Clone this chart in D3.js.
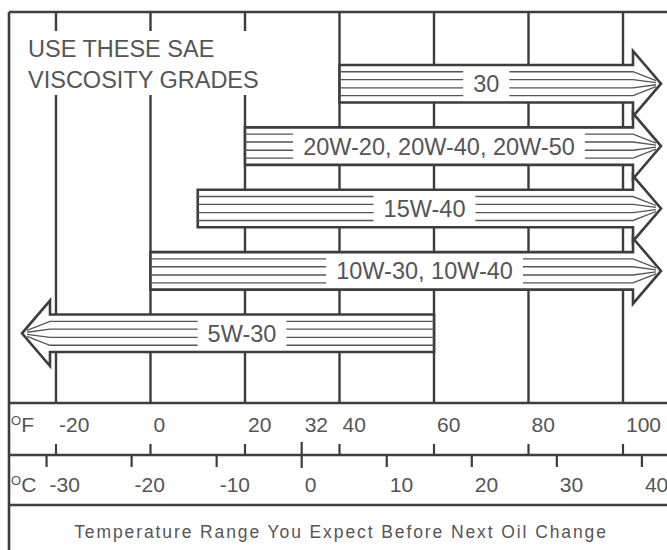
<!DOCTYPE html>
<html>
<head>
<meta charset="utf-8">
<script src="https://cdn.jsdelivr.net/npm/d3@7"></script>
<style>
  html, body { margin: 0; padding: 0; background: #fff; }
  svg { display: block; }
  text { font-family: "Liberation Sans", Arial, sans-serif; fill: #555; }
</style>
</head>
<body>
<svg id="chart" width="667" height="550"></svg>
<script>
// ---- data ----
const grades = ["30", "20W-20, 20W-40, 20W-50", "15W-40", "10W-30, 10W-40", "5W-30"];
const lowF  = [40, 20, 10, 0, null];      // null = open (arrow to the left)
const highF = [null, null, null, null, 60]; // null = open (arrow to the right)
const gridF = [-20, 0, 20, 40, 60, 80, 100];
const fTicks = [-20, 0, 20, 32, 40, 60, 80, 100];
const cTicks = [-30, -20, -10, 0, 10, 20, 30, 40];
const titleLines = ["USE THESE SAE", "VISCOSITY GRADES"];
const caption = "Temperature Range You Expect Before Next Oil Change";

// ---- layout ----
const W = 667, H = 550;
const ink = "#3d3d3d";
const frameL = 9, frameT = 12;
const fBandTop = 403, midLine = 455, cBandBot = 505;

const x = d3.scaleLinear().domain([-20, 100]).range([56, 623]);
const toF = c => c * 9 / 5 + 32;
const y = d3.scaleBand().domain(grades).range([65, 352]).paddingInner(0.4).paddingOuter(0);

const svg = d3.select("#chart");

// gridlines
svg.append("g").selectAll("line").data(gridF).join("line")
  .attr("x1", d => x(d)).attr("x2", d => x(d))
  .attr("y1", frameT).attr("y2", fBandTop)
  .attr("stroke", ink).attr("stroke-width", 2.4);

// title block (white box interrupts gridlines)
svg.append("rect").attr("x", 16).attr("y", 31).attr("width", 290).attr("height", 64).attr("fill", "#fff");
svg.append("g").selectAll("text").data(titleLines).join("text")
  .attr("x", 28).attr("y", (d, i) => 57 + i * 31)
  .attr("font-size", 23.5).text(d => d);

// frame lines
const frame = svg.append("g").attr("stroke", ink).attr("stroke-width", 2.6);
frame.append("line").attr("x1", frameL).attr("x2", W).attr("y1", frameT).attr("y2", frameT);
frame.append("line").attr("x1", frameL).attr("x2", frameL).attr("y1", frameT).attr("y2", H);
frame.append("line").attr("x1", frameL).attr("x2", W).attr("y1", fBandTop).attr("y2", fBandTop);
frame.append("line").attr("x1", frameL).attr("x2", W).attr("y1", midLine).attr("y2", midLine);
frame.append("line").attr("x1", frameL).attr("x2", W).attr("y1", cBandBot).attr("y2", cBandBot);

// ---- arrows ----
const rightBase = x.range()[1] + 10, rightTip = rightBase + 28;
const leftBase = x.range()[0] - 6, leftTip = leftBase - 28;
const ext = 14;
const stripeFr = [0.18, 0.39, 0.61, 0.82];
const minLabelX = x(58);

const bars = grades.map((g, i) => ({ g, lo: lowF[i], hi: highF[i] }));
const gBars = svg.append("g");
bars.forEach(b => {
  const top = y(b.g), bot = top + y.bandwidth(), cy = top + y.bandwidth() / 2;
  const g = gBars.append("g");
  let pts, sx, tip, base;
  if (b.hi === null) {
    sx = x(b.lo); base = rightBase; tip = rightTip;
  } else {
    sx = x(b.hi); base = leftBase; tip = leftTip;
  }
  pts = [[sx, top], [base, top], [base, top - ext], [tip, cy], [base, bot + ext], [base, bot], [sx, bot]];
  g.append("polygon").attr("points", pts.map(p => p.join(",")).join(" "))
    .attr("fill", "#fff").attr("stroke", ink).attr("stroke-width", 2.6).attr("stroke-linejoin", "miter");
  stripeFr.forEach(f => {
    const sy = top + f * y.bandwidth();
    const endX = tip + (b.hi === null ? -5 : 5);
    const endY = cy + (sy - cy) * 0.25;
    g.append("polyline")
      .attr("points", [[sx, sy], [base, sy], [endX, endY]].map(p => p.join(",")).join(" "))
      .attr("fill", "none").attr("stroke", "#555").attr("stroke-width", 1.3);
  });
  // label
  let lx = (sx + base) / 2;
  if (b.hi === null) lx = Math.max(lx, minLabelX);
  const t = g.append("text").attr("x", lx).attr("y", cy + 8.5)
    .attr("text-anchor", "middle").attr("font-size", 23.5).text(b.g);
  const bw = t.node().getComputedTextLength();
  g.insert("rect", "text").attr("x", lx - bw / 2 - 10).attr("y", top + 3)
    .attr("width", bw + 20).attr("height", y.bandwidth() - 6).attr("fill", "#fff");
});

// ---- Fahrenheit axis ----
const fG = svg.append("g");
fG.selectAll("line").data(fTicks).join("line")
  .attr("x1", d => x(d)).attr("x2", d => x(d))
  .attr("y1", d => d === 32 ? midLine - 13 : midLine - 11)
  .attr("y2", d => d === 32 ? midLine + 13 : midLine)
  .attr("stroke", ink).attr("stroke-width", 2.2);
fG.selectAll("text").data(fTicks).join("text")
  .attr("x", d => x(d) + 3).attr("y", 432).attr("font-size", 21).text(d => d);
const fUnit = svg.append("text").attr("x", 11).attr("y", 432).attr("font-size", 21);
fUnit.append("tspan").attr("font-size", 13).attr("dy", -7).text("O");
fUnit.append("tspan").attr("dy", 7).text("F");

// ---- Celsius axis ----
const cG = svg.append("g");
cG.selectAll("line").data(cTicks.filter(c => c !== 0)).join("line")
  .attr("x1", d => x(toF(d))).attr("x2", d => x(toF(d)))
  .attr("y1", midLine).attr("y2", midLine + 12)
  .attr("stroke", ink).attr("stroke-width", 2.2);
cG.selectAll("text").data(cTicks).join("text")
  .attr("x", d => x(toF(d)) + 3).attr("y", 492).attr("font-size", 21).text(d => d);
const cUnit = svg.append("text").attr("x", 11).attr("y", 492).attr("font-size", 21);
cUnit.append("tspan").attr("font-size", 13).attr("dy", -7).text("O");
cUnit.append("tspan").attr("dy", 7).text("C");

// caption
svg.append("text").attr("x", 341).attr("y", 538).attr("text-anchor", "middle")
  .attr("font-size", 17.5).attr("letter-spacing", 1.9).text(caption);
</script>
</body>
</html>
